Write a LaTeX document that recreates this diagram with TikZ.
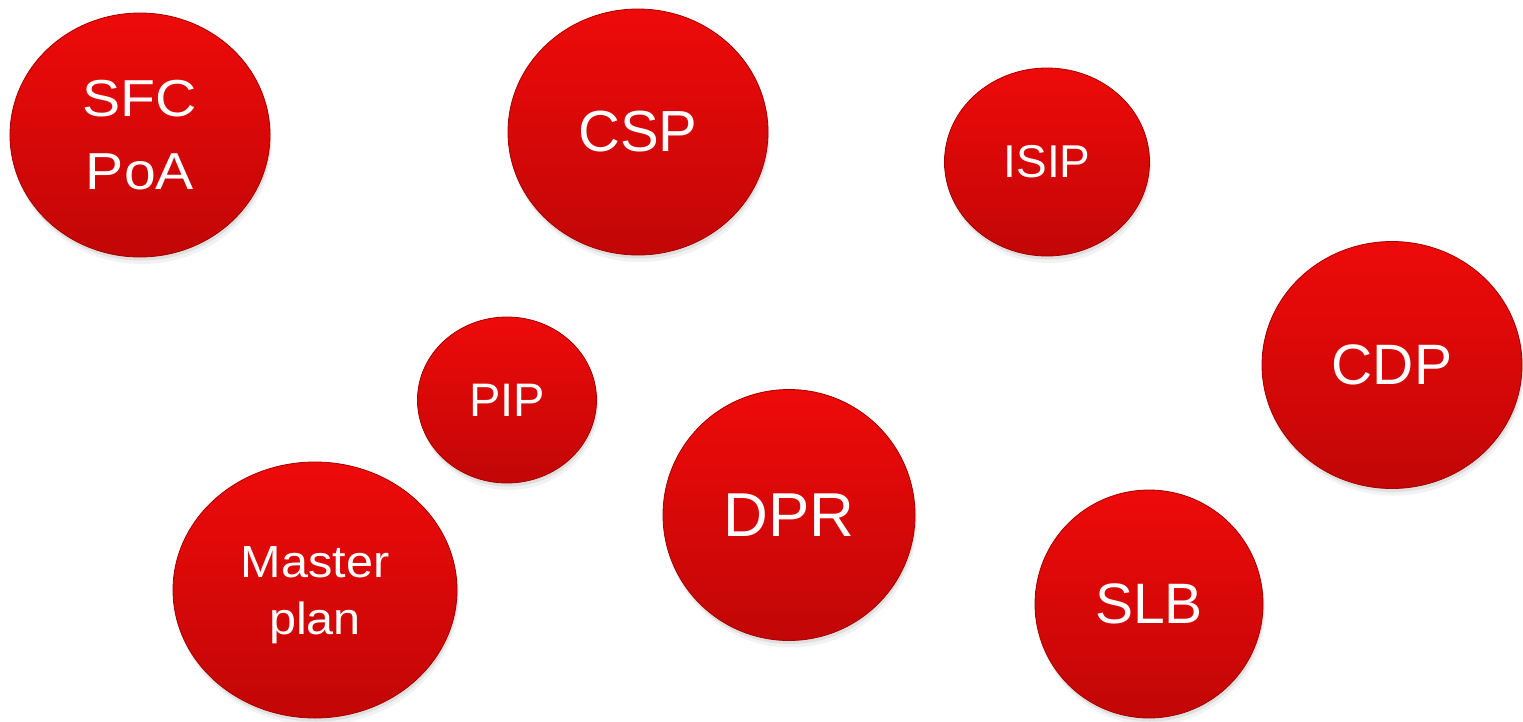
\documentclass[tikz,border=0pt]{standalone}
\usepackage{fontspec}
\usepackage{graphicx}
\setmainfont{Liberation Sans}
\usetikzlibrary{shapes.geometric}
\definecolor{btntop}{RGB}{238,10,10}
\definecolor{btnbot}{RGB}{194,6,6}
\definecolor{btnrim}{RGB}{165,0,0}
\tikzset{
  btn/.style={ellipse, inner sep=0pt, text=white, align=center,
    top color=btntop, bottom color=btnbot,
    draw=btnrim, line width=0.8pt,
    preaction={fill=black, opacity=0.05, transform canvas={xshift=2pt,yshift=-7pt}},
    preaction={fill=black, opacity=0.08, transform canvas={xshift=1pt,yshift=-3.5pt}},
  },
}
\newcommand{\fs}[2]{\fontsize{#1}{#2}\selectfont}
\newcommand{\wide}[2]{\scalebox{#1}[1]{#2}}
\begin{document}
\begin{tikzpicture}[x=1pt,y=-1pt]
\useasboundingbox (0,0) rectangle (1523,721);
\node[btn, minimum width=260pt, minimum height=244pt, font=\fs{52}{73}] (sfc) at (140,135) {\wide{1.1}{SFC}\\\wide{1.1}{PoA}};
\node[btn, minimum width=260pt, minimum height=246pt, font=\fs{58}{70}] (csp) at (638,132) {CSP};
\node[btn, minimum width=205pt, minimum height=188pt, font=\fs{46}{55}] (isip) at (1047,162) {ISIP};
\node[btn, minimum width=260pt, minimum height=247pt, font=\fs{57}{68}] (cdp) at (1392,365) {CDP};
\node[btn, minimum width=179pt, minimum height=166pt, font=\fs{47}{56}] (pip) at (507,400) {PIP};
\node[btn, minimum width=252pt, minimum height=251pt, font=\fs{62}{74}] (dpr) at (789,515) {DPR};
\node[btn, minimum width=284pt, minimum height=256pt, font=\fs{45}{57}] (mp) at (315,590) {\rule{0pt}{42pt}\wide{1.08}{Master}\\\wide{1.08}{plan}};
\node[btn, minimum width=228pt, minimum height=228pt, font=\fs{57}{68}] (slb) at (1149,604) {SLB};
\end{tikzpicture}
\end{document}
